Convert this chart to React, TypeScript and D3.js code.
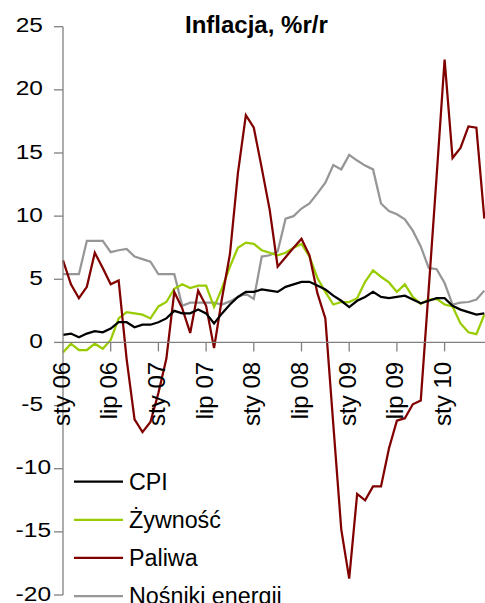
import React from "react";
import * as d3 from "d3";

const months: string[] = (() => {
  const out: string[] = [];
  const names = ["sty", "lut", "mar", "kwi", "maj", "cze", "lip", "sie", "wrz", "paź", "lis", "gru"];
  for (let y = 6; y <= 10; y++) for (let m = 0; m < 12; m++) out.push(`${names[m]} ${String(y).padStart(2, "0")}`);
  return out.slice(0, 54);
})();

const cpi = [0.6, 0.7, 0.4, 0.7, 0.9, 0.8, 1.1, 1.6, 1.6, 1.2, 1.4, 1.4,
  1.6, 1.9, 2.5, 2.3, 2.3, 2.6, 2.3, 1.5, 2.3, 3.0, 3.6, 4.0,
  4.0, 4.2, 4.1, 4.0, 4.4, 4.6, 4.8, 4.8, 4.5, 4.2, 3.7, 3.3,
  2.8, 3.3, 3.6, 4.0, 3.6, 3.5, 3.6, 3.7, 3.4, 3.1, 3.3, 3.5,
  3.5, 2.9, 2.6, 2.4, 2.2, 2.3];

const zywnosc = [-0.8, -0.1, -0.6, -0.6, -0.1, -0.5, 0.2, 1.9, 2.4, 2.3, 2.2, 1.9,
  2.85, 3.2, 4.25, 4.6, 4.3, 4.5, 4.5, 2.8, 4.3, 6.0, 7.5, 7.9,
  7.8, 7.3, 7.1, 6.9, 7.1, 7.5, 7.8, 6.8, 5.1, 4.0, 3.0, 3.2,
  3.2, 3.5, 4.8, 5.7, 5.2, 4.75, 4.0, 4.6, 3.6, 3.05, 3.4, 3.45,
  3.0, 2.85, 1.5, 0.8, 0.65, 2.2];

const paliwa = [6.5, 4.6, 3.5, 4.4, 7.1, 5.9, 4.6, 4.9, -1.3, -6.1, -7.1, -6.3,
  -4.0, -1.3, 4.0, 2.7, 0.75, 4.1, 2.9, -0.45, 3.5, 7.0, 13.4, 18.0,
  17.0, 13.8, 10.5, 6.0, 6.75, 7.5, 8.2, 6.9, 3.9, 1.9, -6.5, -14.8,
  -18.7, -12.0, -12.5, -11.4, -11.4, -8.4, -6.2, -6.0, -4.9, -4.6, 4.2, 13.2,
  22.4, 14.6, 15.4, 17.1, 17.0, 9.8];

const nosniki = [5.4, 5.4, 5.4, 8.05, 8.05, 8.05, 7.15, 7.3, 7.4, 6.8, 6.6, 6.4,
  5.4, 5.4, 5.4, 2.9, 3.15, 3.15, 3.15, 3.15, 3.0, 3.25, 3.6, 3.85,
  3.45, 6.8, 6.9, 7.2, 9.8, 10.0, 10.6, 11.0, 11.8, 12.65, 14.05, 13.7,
  14.85, 14.4, 14.0, 13.7, 11.0, 10.4, 10.15, 9.75, 8.85, 7.6, 5.9, 5.8,
  4.7, 3.0, 3.15, 3.2, 3.4, 4.1];

const seriesNames = ["CPI", "Żywność", "Paliwa", "Nośniki energii"];
const seriesColors = ["#000000", "#99cc00", "#800000", "#969696"];
const seriesValues = [cpi, zywnosc, paliwa, nosniki];
const yTicks = [25, 20, 15, 10, 5, 0, -5, -10, -15, -20];
const title = "Inflacja, %r/r";

const FONT = "'Liberation Sans', Arial, sans-serif";

export default function App() {
  const W = 485, H = 603;
  const x = d3.scaleLinear().domain([0, 54]).range([63, 63 + 54 * 7.95]);
  const y = d3.scaleLinear().domain([-20, 25]).range([595, 26.7]);
  const line = d3.line<number>().x((_, i) => x(i)).y((d) => y(d));
  const xTickIdx = d3.range(0, 54, 6);
  const drawOrder = [3, 1, 2, 0];

  return (
    <svg width={W} height={H} style={{ position: "absolute", left: 0, top: 0, background: "#fff" }} fontFamily={FONT}>
      <rect x={0} y={0} width={W} height={H} fill="#fff" />
      {/* series */}
      {drawOrder.map((si) => (
        <path key={si} d={line(seriesValues[si]) || ""} fill="none" stroke={seriesColors[si]} strokeWidth={2.25} strokeLinejoin="miter" />
      ))}
      {/* y axis */}
      <line x1={x(0)} x2={x(0)} y1={y(25)} y2={y(-20)} stroke="#808080" strokeWidth={1.3} />
      {yTicks.map((t) => (
        <g key={t}>
          <line x1={x(0) - 9} x2={x(0)} y1={y(t)} y2={y(t)} stroke="#808080" strokeWidth={1.3} />
          <text
            transform={`translate(${String(t).length >= 3 ? 51 : 43},${y(t) + 5.6}) scale(1,0.8)`}
            textAnchor="end"
            fontSize={24.5}
            fill="#000"
          >
            {String(t)}
          </text>
        </g>
      ))}
      {/* x axis */}
      <line x1={x(0)} x2={x(54)} y1={y(0)} y2={y(0)} stroke="#808080" strokeWidth={1.3} />
      {xTickIdx.map((i) => (
        <g key={i}>
          {i > 0 && <line x1={x(i)} x2={x(i)} y1={y(0)} y2={y(0) + 9} stroke="#808080" strokeWidth={1.3} />}
          <text transform={`translate(${x(i) + 6.5},${y(0) + 19.5}) rotate(-90)`} textAnchor="end" fontSize={24} fill="#000">
            {months[i]}
          </text>
        </g>
      ))}
      {/* title */}
      <text x={185} y={32.5} fontSize={24} fontWeight="bold" fill="#000">{title}</text>
      {/* legend */}
      {seriesNames.map((n, k) => {
        const ly = 481.7 + k * 38.1;
        return (
          <g key={n}>
            <line x1={74} x2={123} y1={ly} y2={ly} stroke={seriesColors[k]} strokeWidth={2.25} />
            <text x={129} y={ly + 7.8} fontSize={23.3} fill="#000">{n}</text>
          </g>
        );
      })}
    </svg>
  );
}
